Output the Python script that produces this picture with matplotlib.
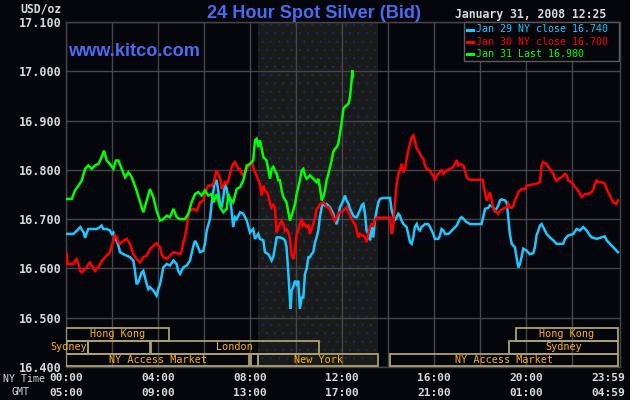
import matplotlib
matplotlib.use("Agg")
import matplotlib.pyplot as plt
from matplotlib.patches import Rectangle
from matplotlib.lines import Line2D
import matplotlib.transforms as mtransforms

# ---------------- data (hour of NY day, price USD/oz) ----------------
JAN29 = [(0.03,16.670),(0.32,16.670),(0.48,16.677),(0.62,16.684),(0.77,16.673),(0.83,16.662),(0.91,16.673),(0.97,16.680),
 (1.19,16.680),(1.33,16.680),(1.48,16.684),(1.55,16.687),(1.62,16.680),(1.77,16.680),(1.91,16.677),(1.99,16.670),(2.06,16.673),
 (2.13,16.663),(2.20,16.656),(2.28,16.646),(2.35,16.633),(2.49,16.629),(2.64,16.626),(2.78,16.623),(2.86,16.619),(2.93,16.616),
 (3.00,16.595),(3.07,16.568),(3.14,16.572),(3.22,16.582),(3.29,16.592),(3.36,16.595),(3.43,16.582),(3.51,16.568),(3.58,16.558),
 (3.65,16.562),(3.80,16.555),(3.94,16.545),(4.01,16.558),(4.09,16.568),(4.23,16.602),(4.38,16.609),(4.52,16.606),(4.67,16.616),
 (4.81,16.609),(4.88,16.595),(4.96,16.589),(5.10,16.602),(5.25,16.606),(5.39,16.616),(5.54,16.646),(5.61,16.656),(5.68,16.650),
 (5.83,16.633),(5.97,16.636),(6.04,16.650),(6.12,16.677),(6.26,16.700),(6.33,16.731),(6.41,16.758),(6.48,16.778),(6.55,16.778),
 (6.62,16.758),(6.70,16.731),(6.77,16.724),(6.84,16.744),(6.91,16.772),(6.99,16.761),(7.06,16.738),(7.13,16.744),(7.20,16.717),
 (7.27,16.684),(7.35,16.704),(7.42,16.700),(7.57,16.714),(7.71,16.711),(7.86,16.697),(8.00,16.673),(8.14,16.680),(8.22,16.660),
 (8.36,16.670),(8.43,16.660),(8.58,16.657),(8.65,16.633),(8.80,16.629),(8.87,16.623),(8.94,16.616),(9.01,16.623),(9.09,16.643),
 (9.16,16.663),(9.30,16.663),(9.45,16.660),(9.52,16.657),(9.59,16.643),(9.67,16.589),(9.74,16.535),(9.77,16.518),(9.81,16.555),
 (9.88,16.562),(9.96,16.575),(10.03,16.568),(10.10,16.575),(10.17,16.518),(10.25,16.541),(10.32,16.541),(10.39,16.589),
 (10.46,16.599),(10.54,16.623),(10.61,16.623),(10.68,16.629),(10.75,16.633),(10.83,16.653),(10.90,16.663),(10.97,16.677),
 (11.04,16.704),(11.12,16.724),(11.19,16.734),(11.26,16.728),(11.33,16.731),(11.48,16.724),(11.62,16.711),(11.70,16.697),
 (11.77,16.690),(11.84,16.704),(11.91,16.724),(11.99,16.731),(12.06,16.738),(12.13,16.748),(12.20,16.738),(12.28,16.731),
 (12.35,16.721),(12.49,16.707),(12.57,16.704),(12.64,16.704),(12.78,16.718),(12.86,16.728),(12.93,16.731),(13.00,16.711),
 (13.07,16.677),(13.14,16.670),(13.22,16.657),(13.29,16.684),(13.36,16.663),(13.43,16.697),(13.51,16.718),(13.58,16.734),
 (13.65,16.741),(13.80,16.743),(13.94,16.743),(14.09,16.743),(14.16,16.718),(14.23,16.707),(14.30,16.697),(14.38,16.704),
 (14.45,16.711),(14.52,16.707),(14.59,16.697),(14.67,16.690),(14.74,16.687),(14.81,16.684),(14.88,16.670),(14.96,16.653),
 (15.03,16.650),(15.10,16.663),(15.17,16.684),(15.25,16.690),(15.32,16.680),(15.39,16.677),(15.46,16.684),(15.54,16.687),
 (15.61,16.690),(15.75,16.690),(15.83,16.684),(15.90,16.677),(15.97,16.670),(16.04,16.660),(16.19,16.660),(16.26,16.667),
 (16.33,16.680),(16.41,16.677),(16.48,16.670),(16.62,16.670),(16.70,16.673),(16.84,16.680),(16.99,16.687),(17.06,16.694),
 (17.13,16.701),(17.20,16.704),(17.28,16.701),(17.35,16.697),(17.42,16.694),(17.57,16.690),(18.07,16.690),(18.14,16.704),
 (18.22,16.721),(18.36,16.723),(18.43,16.728),(18.58,16.724),(18.65,16.717),(18.72,16.721),(18.80,16.728),(18.87,16.738),
 (18.94,16.740),(19.09,16.738),(19.16,16.734),(19.23,16.704),(19.30,16.670),(19.38,16.650),(19.52,16.643),(19.59,16.623),
 (19.67,16.602),(19.74,16.609),(19.81,16.623),(19.88,16.640),(20.03,16.636),(20.17,16.629),(20.32,16.631),(20.39,16.643),
 (20.46,16.667),(20.54,16.677),(20.61,16.687),(20.68,16.690),(20.75,16.684),(20.90,16.670),(21.04,16.663),(21.19,16.657),
 (21.33,16.650),(21.62,16.650),(21.70,16.660),(21.84,16.667),(22.06,16.670),(22.20,16.680),(22.35,16.677),(22.49,16.684),
 (22.64,16.677),(22.78,16.667),(22.86,16.663),(23.07,16.660),(23.29,16.663),(23.43,16.665),(23.51,16.657),(23.65,16.650),
 (23.80,16.643),(23.94,16.636),(24.00,16.633)]

JAN30 = [(0.03,16.629),(0.06,16.609),(0.17,16.609),(0.32,16.609),(0.39,16.616),(0.46,16.619),(0.54,16.609),(0.62,16.595),
 (0.68,16.592),(0.75,16.595),(0.83,16.599),(0.90,16.602),(0.97,16.609),(1.04,16.612),(1.12,16.606),(1.19,16.602),(1.26,16.595),
 (1.33,16.599),(1.41,16.602),(1.48,16.609),(1.62,16.619),(1.77,16.626),(1.91,16.633),(1.99,16.646),(2.06,16.656),(2.13,16.667),
 (2.20,16.663),(2.28,16.653),(2.35,16.650),(2.49,16.656),(2.64,16.660),(2.78,16.650),(2.93,16.629),(3.07,16.619),(3.22,16.612),
 (3.36,16.623),(3.51,16.626),(3.65,16.639),(3.80,16.646),(3.94,16.651),(4.09,16.643),(4.16,16.629),(4.23,16.623),(4.38,16.619),
 (4.52,16.626),(4.67,16.633),(4.81,16.631),(4.96,16.629),(5.03,16.636),(5.10,16.653),(5.17,16.663),(5.25,16.684),(5.32,16.711),
 (5.39,16.717),(5.54,16.721),(5.68,16.717),(5.83,16.734),(5.97,16.738),(6.12,16.761),(6.19,16.768),(6.33,16.768),(6.41,16.772),
 (6.48,16.785),(6.55,16.799),(6.62,16.792),(6.70,16.782),(6.77,16.761),(6.84,16.768),(6.91,16.775),(6.99,16.772),(7.06,16.778),
 (7.13,16.792),(7.20,16.805),(7.27,16.812),(7.35,16.816),(7.42,16.809),(7.49,16.802),(7.57,16.802),(7.64,16.792),(7.71,16.789),
 (7.78,16.795),(7.86,16.802),(8.00,16.812),(8.07,16.819),(8.14,16.806),(8.22,16.795),(8.29,16.789),(8.36,16.779),(8.43,16.772),
 (8.51,16.748),(8.58,16.768),(8.65,16.758),(8.72,16.755),(8.80,16.748),(8.87,16.731),(8.94,16.724),(9.01,16.731),(9.09,16.721),
 (9.16,16.673),(9.23,16.684),(9.30,16.690),(9.38,16.697),(9.45,16.690),(9.52,16.677),(9.59,16.680),(9.67,16.673),(9.74,16.660),
 (9.81,16.626),(9.88,16.619),(9.96,16.636),(10.03,16.670),(10.10,16.677),(10.17,16.690),(10.25,16.701),(10.32,16.687),
 (10.39,16.690),(10.46,16.684),(10.54,16.687),(10.61,16.670),(10.68,16.680),(10.75,16.690),(10.83,16.704),(10.90,16.721),
 (10.97,16.724),(11.04,16.731),(11.19,16.734),(11.26,16.731),(11.33,16.724),(11.41,16.724),(11.48,16.718),(11.62,16.704),
 (11.70,16.697),(11.77,16.704),(11.84,16.711),(11.91,16.714),(11.99,16.714),(12.06,16.718),(12.13,16.721),(12.20,16.724),
 (12.28,16.714),(12.35,16.707),(12.42,16.701),(12.49,16.694),(12.57,16.690),(12.64,16.677),(12.71,16.663),(12.78,16.670),
 (12.86,16.667),(12.93,16.667),(13.00,16.663),(13.07,16.653),(13.14,16.670),(13.22,16.684),(13.29,16.690),(13.36,16.687),
 (13.43,16.697),(13.51,16.703),(14.09,16.703),(14.16,16.670),(14.23,16.684),(14.30,16.731),(14.38,16.772),(14.45,16.792),
 (14.52,16.799),(14.59,16.812),(14.67,16.795),(14.74,16.802),(14.81,16.822),(14.88,16.839),(14.96,16.853),(15.03,16.866),
 (15.10,16.870),(15.17,16.860),(15.25,16.843),(15.32,16.839),(15.39,16.833),(15.46,16.826),(15.54,16.822),(15.61,16.809),
 (15.68,16.802),(15.83,16.799),(15.90,16.792),(15.97,16.789),(16.04,16.778),(16.12,16.789),(16.19,16.792),(16.33,16.799),
 (16.41,16.792),(16.55,16.799),(16.70,16.802),(16.84,16.806),(16.91,16.812),(16.99,16.820),(17.06,16.809),(17.13,16.812),
 (17.28,16.809),(17.35,16.799),(17.42,16.785),(17.49,16.782),(17.57,16.780),(18.12,16.780),(18.17,16.765),(18.22,16.755),
 (18.29,16.738),(18.36,16.745),(18.43,16.755),(18.51,16.738),(18.58,16.721),(18.72,16.714),(18.80,16.711),(18.87,16.717),
 (19.01,16.721),(19.16,16.724),(19.23,16.731),(19.30,16.724),(19.38,16.723),(19.45,16.728),(19.52,16.738),(19.59,16.745),
 (19.67,16.755),(19.74,16.758),(19.81,16.761),(19.96,16.761),(20.03,16.768),(20.25,16.770),(20.46,16.772),(20.61,16.775),
 (20.68,16.809),(20.75,16.816),(20.90,16.812),(20.97,16.806),(21.04,16.802),(21.19,16.792),(21.26,16.782),(21.33,16.778),
 (21.41,16.782),(21.55,16.785),(21.70,16.792),(21.77,16.789),(21.84,16.778),(21.99,16.775),(22.13,16.765),(22.28,16.758),
 (22.35,16.751),(22.42,16.745),(22.57,16.751),(22.71,16.751),(22.86,16.755),(22.93,16.761),(23.00,16.772),(23.07,16.778),
 (23.14,16.775),(23.29,16.775),(23.43,16.772),(23.51,16.761),(23.65,16.748),(23.80,16.734),(23.94,16.731),(24.00,16.738)]

JAN31 = [(0.03,16.741),(0.25,16.741),(0.39,16.758),(0.54,16.768),(0.68,16.778),(0.83,16.802),(0.97,16.809),(1.12,16.802),
 (1.26,16.809),(1.41,16.812),(1.55,16.826),(1.65,16.839),(1.77,16.819),(1.91,16.812),(2.06,16.802),(2.17,16.819),(2.28,16.819),
 (2.42,16.802),(2.57,16.785),(2.71,16.795),(2.86,16.785),(3.07,16.758),(3.29,16.724),(3.36,16.714),(3.51,16.738),(3.65,16.761),
 (3.80,16.744),(3.94,16.717),(4.09,16.697),(4.23,16.700),(4.38,16.707),(4.52,16.704),(4.67,16.721),(4.81,16.704),(4.96,16.700),
 (5.17,16.700),(5.32,16.711),(5.46,16.734),(5.61,16.751),(5.75,16.755),(5.90,16.748),(6.04,16.758),(6.19,16.748),(6.33,16.751),
 (6.41,16.734),(6.55,16.751),(6.70,16.724),(6.84,16.714),(6.99,16.721),(7.06,16.751),(7.13,16.741),(7.27,16.734),(7.42,16.761),
 (7.57,16.765),(7.71,16.779),(7.86,16.809),(8.00,16.812),(8.14,16.819),(8.22,16.860),(8.29,16.863),(8.36,16.846),(8.43,16.860),
 (8.51,16.843),(8.58,16.826),(8.72,16.819),(8.87,16.782),(8.94,16.802),(9.01,16.806),(9.16,16.792),(9.23,16.779),(9.30,16.779),
 (9.38,16.758),(9.45,16.745),(9.59,16.734),(9.67,16.714),(9.74,16.697),(9.81,16.707),(9.88,16.718),(9.96,16.731),(10.03,16.751),
 (10.10,16.765),(10.17,16.779),(10.25,16.799),(10.32,16.802),(10.39,16.789),(10.46,16.782),(10.54,16.785),(10.61,16.789),
 (10.75,16.782),(10.90,16.775),(10.97,16.782),(11.04,16.765),(11.12,16.738),(11.19,16.745),(11.26,16.758),(11.33,16.779),
 (11.41,16.792),(11.48,16.806),(11.55,16.819),(11.62,16.836),(11.70,16.843),(11.77,16.846),(11.84,16.853),(11.91,16.873),
 (11.99,16.897),(12.06,16.924),(12.13,16.928),(12.20,16.931),(12.28,16.934),(12.35,16.948),(12.42,16.982),(12.45,17.002),
 (12.46,16.988)]

SERIES_LABELS = ["Jan 29 NY close 16.740", "Jan 30 NY close 16.700", "Jan 31 Last 16.980"]
SERIES_COLORS = ["#1ec8ff", "#ff0000", "#00ff00"]

Y_TICKS = [16.4, 16.5, 16.6, 16.7, 16.8, 16.9, 17.0, 17.1]
X_LABEL_HOURS = [0, 4, 8, 12, 16, 20, 24]
NY_LABELS = ["00:00", "04:00", "08:00", "12:00", "16:00", "20:00", "23:59"]
GMT_LABELS = ["05:00", "09:00", "13:00", "17:00", "21:00", "01:00", "04:59"]

SESSION_NAMES = ["Hong Kong", "Hong Kong", "Sydney", "", "London", "Sydney",
                 "NY Access Market", "", "New York", "NY Access Market"]
SESSION_START = [0.0, 19.57, 0.0, 0.96, 3.68, 19.26, 0.0, 8.04, 8.35, 14.09]
SESSION_END = [4.5, 24.0, 0.96, 3.65, 11.0, 24.0, 7.96, 8.33, 13.57, 24.0]
SESSION_ROW = [0, 0, 1, 1, 1, 1, 2, 2, 2, 2]
NY_SHADE = (8.33, 13.55)

# ---------------- figure ----------------
W, H = 630, 400
BG = "#05060c"
GRID = "#464646"
TXT = "#d8d8d8"
BLUE = "#4a6cf0"
MONO = "DejaVu Sans Mono"

fig = plt.figure(figsize=(6.3, 4.0), dpi=100)
fig.patch.set_facecolor(BG)

def fx(x):
    return x / W

def fy(y):
    return 1 - y / H

ax = fig.add_axes([fx(66), fy(367), 554 / W, 345 / H])
ax.set_facecolor(BG)
ax.set_xlim(0, 24.09)
ax.set_ylim(16.4, 17.1)

ax.set_xticks(list(range(0, 24, 2)))
ax.set_xticklabels([])
ax.set_yticks(Y_TICKS)
ax.set_yticklabels(["%.3f" % v for v in Y_TICKS], color=TXT, fontfamily=MONO,
                   fontsize=8.5, fontweight="bold")
ax.tick_params(length=0, pad=2.9)
ax.grid(True, color=GRID, lw=1.0, zorder=0)
ax.set_axisbelow(True)
for s in ax.spines.values():
    s.set_color(GRID)
    s.set_linewidth(1.0)

# NY trading shade
plt.rcParams["hatch.linewidth"] = 0.6
ax.axvspan(NY_SHADE[0], NY_SHADE[1], facecolor="#1a1a19", edgecolor="#1c2860",
           hatch="..", lw=0, zorder=0.5)

# series
for data, col in zip([JAN29, JAN30, JAN31], SERIES_COLORS):
    xs = [p[0] for p in data]
    ys = [p[1] for p in data]
    ax.plot(xs, ys, color=col, lw=1.8, zorder=3, solid_joinstyle="miter")

# session boxes
trans = mtransforms.blended_transform_factory(ax.transData, ax.transAxes)
ROW_Y = [0.0768, 0.0386, 0.002]
ROW_H = 0.0362
for name, s0, s1, row in zip(SESSION_NAMES, SESSION_START, SESSION_END, SESSION_ROW):
    r = Rectangle((s0, ROW_Y[row]), s1 - s0, ROW_H, transform=trans, fill=False,
                  edgecolor="#aaa274", lw=1.3, zorder=4)
    ax.add_patch(r)
    if not name:
        continue
    yc = ROW_Y[row] + ROW_H / 2
    if name == "Sydney" and s0 == 0.0:
        ax.text(s1 - 0.02, yc, name, transform=trans, ha="right", va="center",
                color="#ffb400", fontfamily=MONO, fontsize=7.3, zorder=5, clip_on=False)
    else:
        ax.text((s0 + s1) / 2, yc, name, transform=trans, ha="center", va="center",
                color="#ffb400", fontfamily=MONO, fontsize=7.3, zorder=5)

# x labels (last label sits left of its tick so it fits the image)
for h, ny, gmt in zip(X_LABEL_HOURS, NY_LABELS, GMT_LABELS):
    xp = 66 + h * 23.0
    if h == 24:
        xp = 608
    fig.text(fx(xp), fy(378), ny, ha="center", va="center", color=TXT,
             fontfamily=MONO, fontsize=8.1, fontweight="bold")
    fig.text(fx(xp), fy(393.5), gmt, ha="center", va="center", color=TXT,
             fontfamily=MONO, fontsize=8.1, fontweight="bold")
fig.text(fx(45), fy(379), "NY Time", ha="right", va="center", color=TXT,
         fontfamily=MONO, fontsize=7.1)
fig.text(fx(20.5), fy(392), "GMT", ha="center", va="center", color=TXT,
         fontfamily=MONO, fontsize=7.1)
fig.text(fx(62), fy(8.5), "USD/oz", ha="right", va="center", color=TXT,
         fontfamily=MONO, fontsize=8.3, fontweight="bold")

# titles
fig.text(fx(314), fy(18.3), "24 Hour Spot Silver (Bid)", ha="center", va="baseline",
         color=BLUE, fontfamily="Liberation Sans", fontsize=13.1, fontweight="bold")
fig.text(fx(68), fy(56), "www.kitco.com", ha="left", va="baseline",
         color=BLUE, fontfamily="Liberation Sans", fontsize=13.1, fontweight="bold")
fig.text(fx(455), fy(18.3), "January 31, 2008 12:25", ha="left", va="baseline",
         color=TXT, fontfamily=MONO, fontsize=8.3, fontweight="bold")

# legend
leg = Rectangle((fx(464), fy(61)), (619 - 464) / W, (61 - 22) / H, transform=fig.transFigure,
                facecolor=BG, edgecolor="#5a5a5a", lw=1.0, zorder=10)
fig.patches.append(leg)
for i, (lab, col) in enumerate(zip(SERIES_LABELS, SERIES_COLORS)):
    yy = 29.5 + i * 12.4
    fig.lines.append(Line2D([fx(467), fx(472.5)], [fy(yy), fy(yy)], color=col, lw=2.2,
                            transform=fig.transFigure, zorder=11))
    fig.text(fx(476), fy(yy), lab, ha="left", va="center", color=col,
             fontfamily=MONO, fontsize=7.2, zorder=11)

fig.savefig("out.png", dpi=100, facecolor=BG)
